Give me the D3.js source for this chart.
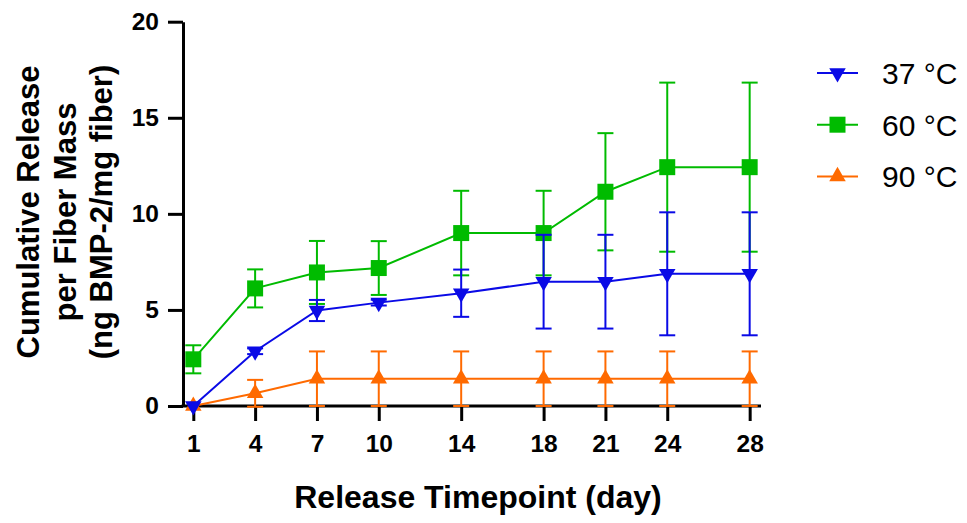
<!DOCTYPE html>
<html>
<head>
<meta charset="utf-8">
<script src="https://cdn.jsdelivr.net/npm/d3@7"></script>
<style>
  body { margin: 0; background: #fff; }
  svg { display: block; font-family: Arial, "Liberation Sans", Helvetica, sans-serif; }
</style>
</head>
<body>
<svg id="chart" width="967" height="523"></svg>
<script>
// release timepoints (day)
var days = [1, 4, 7, 10, 14, 18, 21, 24, 28];

// mean +/- error for each temperature
var mean37 = [0, 2.85, 4.97, 5.38, 5.87, 6.47, 6.47, 6.88, 6.88];
var err37  = [0, 0.15, 0.55, 0.15, 1.23, 2.44, 2.44, 3.2, 3.2];
var mean60 = [2.43, 6.12, 6.95, 7.18, 9.0, 9.0, 11.15, 12.43, 12.43];
var err60  = [0.73, 0.99, 1.64, 1.4, 2.2, 2.2, 3.05, 4.4, 4.4];
var mean90 = [0, 0.66, 1.42, 1.42, 1.42, 1.42, 1.42, 1.42, 1.42];
var err90  = [0, 0.7, 1.42, 1.42, 1.42, 1.42, 1.42, 1.42, 1.42];

var seriesNames = ["37 \u00B0C", "60 \u00B0C", "90 \u00B0C"];
var yTicks = [0, 5, 10, 15, 20];

var series = [
  {name: seriesNames[0], mean: mean37, err: err37, color: "#0a0ae6", shape: "down"},
  {name: seriesNames[1], mean: mean60, err: err60, color: "#00bb00", shape: "square"},
  {name: seriesNames[2], mean: mean90, err: err90, color: "#ff6a00", shape: "up"}
];

var svg = d3.select("#chart");

var x = d3.scaleLinear().domain([0.5, 28.55]).range([183, 761]);
var y = d3.scaleLinear().domain([0, 20]).range([406, 21.7]);

function markerPath(shape) {
  if (shape == "square") return d3.symbol().type(d3.symbolSquare).size(256)();
  return d3.symbol().type(d3.symbolTriangle).size(118)();
}
function markerTransform(shape, px, py) {
  var t = "translate(" + px + "," + py + ")";
  if (shape == "down") t += " rotate(180)";
  return t;
}

// axes
var xAxis = svg.append("g")
  .attr("transform", "translate(0," + y(0) + ")")
  .call(d3.axisBottom(x).tickValues(days).tickSize(15).tickSizeOuter(0).tickPadding(14));
var yAxis = svg.append("g")
  .attr("transform", "translate(" + x.range()[0] + ",0)")
  .call(d3.axisLeft(y).tickValues(yTicks).tickSize(15).tickSizeOuter(0).tickPadding(9));

[xAxis, yAxis].forEach(function(ax) {
  ax.select(".domain").attr("stroke", "#000").attr("stroke-width", 3);
  ax.selectAll(".tick line").attr("stroke", "#000").attr("stroke-width", 3);
  ax.selectAll(".tick text")
    .attr("fill", "#000")
    .style("font-size", "24.5px")
    .style("font-weight", "bold")
    .style("font-family", "Arial, 'Liberation Sans', sans-serif");
});
// close the corner where the two axes meet
xAxis.select(".domain").attr("d", "M" + (x.range()[0] - 1.5) + ",0H" + x.range()[1]);

// axis titles
svg.append("text")
  .attr("x", 478).attr("y", 508)
  .attr("text-anchor", "middle")
  .style("font-size", "32px").style("font-weight", "bold")
  .text("Release Timepoint (day)");

var yTitle = ["Cumulative Release", "per Fiber Mass", "(ng BMP-2/mg fiber)"];
var yTitleG = svg.append("g").attr("transform", "translate(0,212) rotate(-90)");
yTitle.forEach(function(line, i) {
  yTitleG.append("text")
    .attr("x", 0).attr("y", 39 + i * 36.5)
    .attr("text-anchor", "middle")
    .style("font-size", "31px").style("font-weight", "bold")
    .text(line);
});

// data, drawn so the 37 C set ends on top
var line = d3.line().x(function(d) { return x(d[0]); }).y(function(d) { return y(d[1]); });

series.slice().reverse().forEach(function(s) {
  var g = svg.append("g");
  var pts = days.map(function(d, i) { return [d, s.mean[i], s.err[i]]; });

  // error bars
  pts.forEach(function(p) {
    if (p[2] <= 0) return;
    var px = x(p[0]), top = y(p[1] + p[2]), bot = y(p[1] - p[2]);
    g.append("line").attr("x1", px).attr("x2", px).attr("y1", top).attr("y2", bot)
      .attr("stroke", s.color).attr("stroke-width", 2);
    [top, bot].forEach(function(cy) {
      g.append("line").attr("x1", px - 8).attr("x2", px + 8).attr("y1", cy).attr("y2", cy)
        .attr("stroke", s.color).attr("stroke-width", 2);
    });
  });

  g.append("path").datum(pts)
    .attr("d", line)
    .attr("fill", "none")
    .attr("stroke", s.color)
    .attr("stroke-width", 2);

  g.selectAll("path.marker").data(pts).enter().append("path")
    .attr("class", "marker")
    .attr("d", markerPath(s.shape))
    .attr("transform", function(p) { return markerTransform(s.shape, x(p[0]), y(p[1])); })
    .attr("fill", s.color);
});

// legend
var legend = svg.append("g");
series.forEach(function(s, i) {
  var cy = 73 + i * 51.7;
  legend.append("line").attr("x1", 817).attr("x2", 858).attr("y1", cy).attr("y2", cy)
    .attr("stroke", s.color).attr("stroke-width", 2);
  legend.append("path")
    .attr("d", markerPath(s.shape))
    .attr("transform", markerTransform(s.shape, 837.5, cy))
    .attr("fill", s.color);
  legend.append("text")
    .attr("x", 882).attr("y", cy + 11)
    .style("font-size", "30px")
    .text(s.name);
});
</script>
</body>
</html>
